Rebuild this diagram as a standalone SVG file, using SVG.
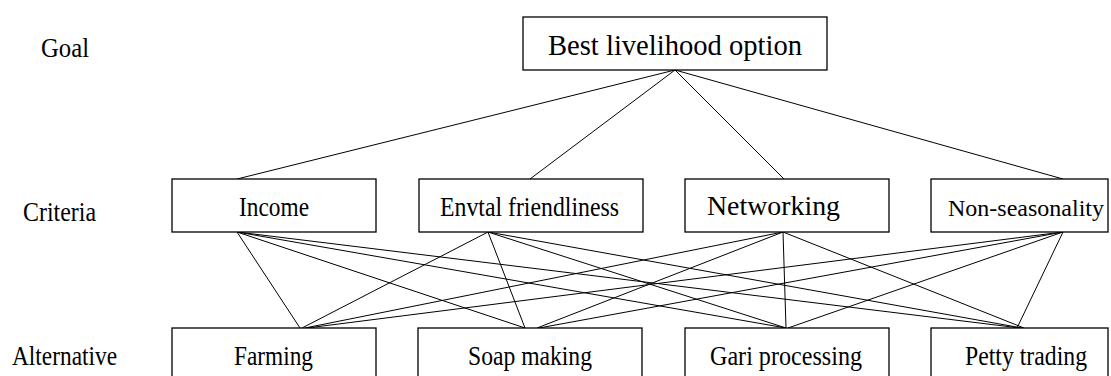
<svg xmlns="http://www.w3.org/2000/svg" width="1111" height="376" viewBox="0 0 1111 376">
<style>
.box{fill:#fff;stroke:#000;stroke-width:1.3}
.t{font-family:"Liberation Serif","Times New Roman",serif;font-size:27px;fill:#000}
.c line{stroke:#000;stroke-width:1}
</style>
<rect width="1111" height="376" fill="#fff"/>
<g id="labels">
<text class="t" x="41" y="57" textLength="48" lengthAdjust="spacingAndGlyphs">Goal</text>
<text class="t" x="23" y="221" textLength="73" lengthAdjust="spacingAndGlyphs">Criteria</text>
<text class="t" x="12" y="365" textLength="105" lengthAdjust="spacingAndGlyphs">Alternative</text>
</g>
<g class="c" id="connectors">
<line x1="675" y1="70" x2="237" y2="179"/>
<line x1="675" y1="70" x2="530" y2="179"/>
<line x1="675" y1="70" x2="784" y2="179"/>
<line x1="675" y1="70" x2="1063" y2="179"/>
<line x1="237" y1="232" x2="300" y2="328"/>
<line x1="237" y1="232" x2="525" y2="328"/>
<line x1="237" y1="232" x2="786" y2="328"/>
<line x1="237" y1="232" x2="1020" y2="328"/>
<line x1="488" y1="232" x2="302" y2="328"/>
<line x1="488" y1="232" x2="525" y2="328"/>
<line x1="488" y1="232" x2="786" y2="328"/>
<line x1="488" y1="232" x2="1022" y2="328"/>
<line x1="783" y1="232" x2="305" y2="328"/>
<line x1="783" y1="232" x2="537" y2="328"/>
<line x1="783" y1="232" x2="786" y2="328"/>
<line x1="783" y1="232" x2="1024" y2="328"/>
<line x1="1063" y1="232" x2="307" y2="328"/>
<line x1="1063" y1="232" x2="539" y2="328"/>
<line x1="1063" y1="232" x2="788" y2="328"/>
<line x1="1063" y1="232" x2="1017" y2="328"/>
</g>
<g id="goal">
<rect class="box" x="523" y="17" width="304" height="53"/>
<text class="t" x="548" y="55" style="font-size:29px" textLength="254" lengthAdjust="spacingAndGlyphs">Best livelihood option</text>
</g>
<g id="income">
<rect class="box" x="172" y="179" width="204" height="53"/>
<text class="t" x="239" y="216" textLength="70" lengthAdjust="spacingAndGlyphs">Income</text>
</g>
<g id="envtal">
<rect class="box" x="419" y="179" width="224" height="53"/>
<text class="t" x="440" y="216" textLength="179" lengthAdjust="spacingAndGlyphs">Envtal friendliness</text>
</g>
<g id="networking">
<rect class="box" x="685" y="179" width="204" height="53"/>
<text class="t" x="707" y="215" textLength="133" lengthAdjust="spacingAndGlyphs">Networking</text>
</g>
<g id="nonseasonality">
<rect class="box" x="931" y="179" width="177" height="53"/>
<text class="t" x="948" y="216" style="font-size:24px">Non-seasonality</text>
</g>
<g id="farming">
<rect class="box" x="172" y="328" width="204" height="53"/>
<text class="t" x="234" y="365" textLength="79" lengthAdjust="spacingAndGlyphs">Farming</text>
</g>
<g id="soap">
<rect class="box" x="418" y="328" width="224" height="53"/>
<text class="t" x="468" y="365" textLength="124" lengthAdjust="spacingAndGlyphs">Soap making</text>
</g>
<g id="gari">
<rect class="box" x="685" y="328" width="204" height="53"/>
<text class="t" x="710" y="365" textLength="152" lengthAdjust="spacingAndGlyphs">Gari processing</text>
</g>
<g id="petty">
<rect class="box" x="931" y="328" width="177" height="53"/>
<text class="t" x="965" y="365" textLength="122" lengthAdjust="spacingAndGlyphs">Petty trading</text>
</g>
</svg>
